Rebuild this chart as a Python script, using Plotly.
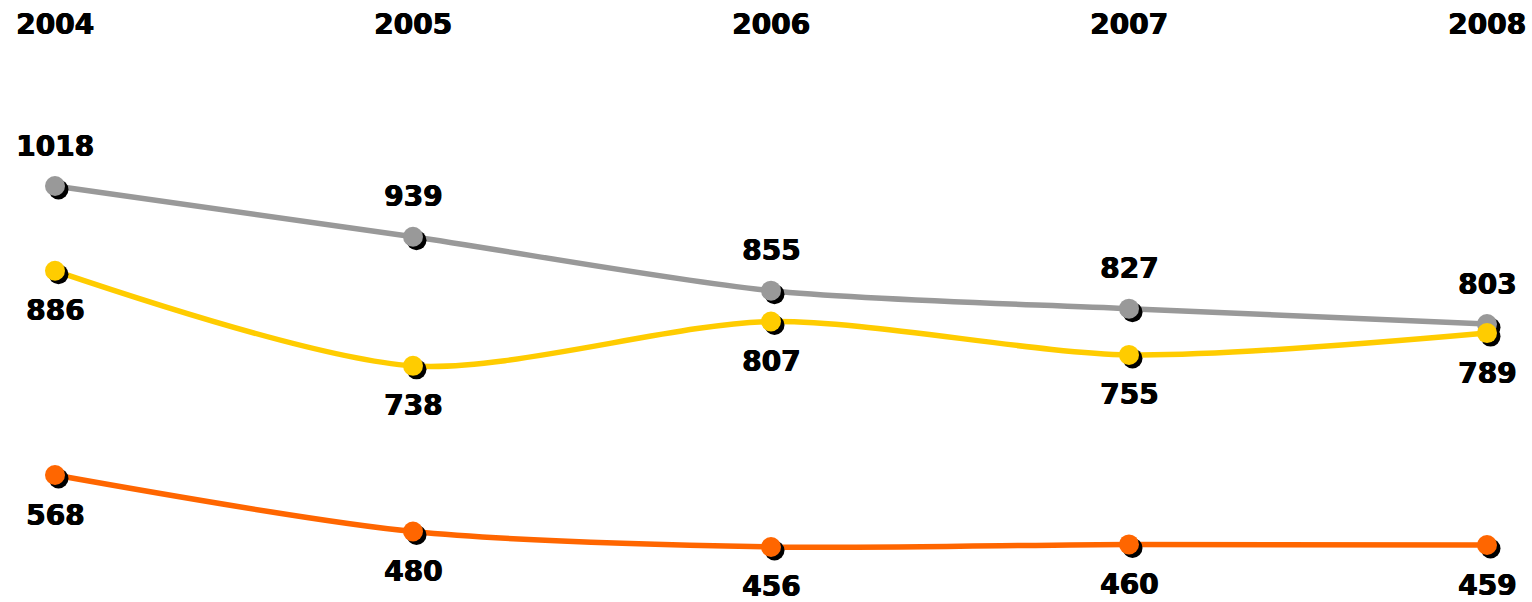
import plotly.graph_objects as go

years = [2004, 2005, 2006, 2007, 2008]
gray_vals = [1018, 939, 855, 827, 803]
yellow_vals = [886, 738, 807, 755, 789]
orange_vals = [568, 480, 456, 460, 459]

series = [
    ("gray", gray_vals, "#999999", 1),
    ("yellow", yellow_vals, "#FFCC00", -1),
    ("orange", orange_vals, "#FF6600", -1),
]

W, H = 1532, 602
x_range = [2003.8464, 2008.1257]
y_range = [370.3, 1307.6]
px_per_x = W / (x_range[1] - x_range[0])
px_per_y = H / (y_range[1] - y_range[0])
shadow_px = 3.5

FONT = "DejaVu Sans"
FONT_SIZE = 28
# slight horizontal smear to give the bold digits a heavier stroke
TEXT_SHADOW = "0.7px 0 0 black, -0.3px 0 0 black"

fig = go.Figure()

# lines
for name, vals, color, _ in series:
    fig.add_trace(go.Scatter(
        x=years, y=vals, mode="lines",
        line=dict(color=color, width=5.5, shape="spline", smoothing=0.8),
        hoverinfo="skip", showlegend=False,
    ))

# dark drop shadows under markers, then coloured markers on top
for name, vals, color, _ in series:
    fig.add_trace(go.Scatter(
        x=[x + shadow_px / px_per_x for x in years],
        y=[v - shadow_px / px_per_y for v in vals],
        mode="markers", marker=dict(color="black", size=20),
        hoverinfo="skip", showlegend=False,
    ))
for name, vals, color, _ in series:
    fig.add_trace(go.Scatter(
        x=years, y=vals, mode="markers",
        marker=dict(color=color, size=20),
        name=name, showlegend=False,
    ))

font = dict(family=FONT, size=FONT_SIZE, color="black", shadow=TEXT_SHADOW)

annotations = []
for name, vals, color, side in series:
    for x, v in zip(years, vals):
        annotations.append(dict(
            x=x, y=v, xref="x", yref="y", text=f"<b>{v}</b>",
            showarrow=False, yshift=40 * side, yanchor="middle", font=font,
        ))
for x in years:
    annotations.append(dict(
        x=x, y=1 - 25 / H, xref="x", yref="paper", text=f"<b>{x}</b>",
        showarrow=False, yanchor="middle", font=font,
    ))

fig.update_layout(
    width=W, height=H,
    margin=dict(l=0, r=0, t=0, b=0),
    paper_bgcolor="white", plot_bgcolor="white",
    xaxis=dict(range=x_range, visible=False),
    yaxis=dict(range=y_range, visible=False),
    annotations=annotations,
    showlegend=False,
)

fig.write_html("out.html")
